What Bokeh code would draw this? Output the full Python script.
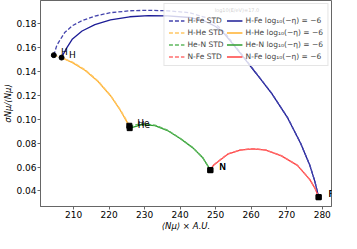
from bokeh.plotting import figure
from bokeh.models import (ColumnDataSource, Legend, LegendItem, LabelSet, Label,
                          FixedTicker, NumeralTickFormatter, Range1d)
from bokeh.core.properties import value
from bokeh.embed import file_html
from bokeh.resources import INLINE

# ---------------- data ----------------
elements = ["H", "He", "N", "Fe"]
std_x = [204.44, 225.7, 248.5, 278.98]
std_y = [0.1535, 0.0945, 0.0574, 0.0348]
mod_x = [206.63, 225.8, 248.5, 278.98]
mod_y = [0.1515, 0.0925, 0.0574, 0.0348]

# H-Fe
hfe_std_x = [204.44, 205.3, 207.5, 209.7, 212.4, 216.0, 220.4, 225.8, 231.1, 236.5, 242.7, 247.1,
             250.0, 252.5, 255.2, 257.8, 261.4, 265.8, 270.3, 273.9, 276.5, 277.9, 278.98]
hfe_std_y = [0.1535, 0.1618, 0.1724, 0.1782, 0.1824, 0.1862, 0.1890, 0.1906, 0.1910, 0.1906, 0.1890, 0.1850,
             0.1795, 0.1725, 0.1620, 0.1525, 0.1385, 0.1215, 0.1010, 0.0800, 0.0615, 0.0482, 0.0348]
hfe_x = [206.63, 208.0, 209.7, 212.4, 216.0, 220.4, 225.8, 231.1, 236.5, 242.7, 247.1,
         250.0, 252.5, 255.2, 257.8, 261.4, 265.8, 270.3, 273.9, 276.5, 277.9, 278.98]
hfe_y = [0.1515, 0.1592, 0.1671, 0.1737, 0.1790, 0.1830, 0.1856, 0.1866, 0.1864, 0.1850, 0.1818,
         0.1775, 0.1712, 0.1615, 0.1518, 0.1382, 0.1213, 0.1008, 0.0799, 0.0614, 0.0482, 0.0348]
# H-He
hhe_std_x = [204.44, 207.0, 209.7, 213.3, 216.9, 220.4, 223.1, 224.9, 225.7]
hhe_std_y = [0.1535, 0.1510, 0.1478, 0.1412, 0.1320, 0.1200, 0.1082, 0.0992, 0.0945]
hhe_x = [206.63, 209.7, 213.3, 216.9, 220.4, 223.1, 224.9, 225.8]
hhe_y = [0.1515, 0.1473, 0.1407, 0.1315, 0.1196, 0.1077, 0.0984, 0.0925]
# He-N
hen_std_x = [225.7, 229.3, 232.9, 236.45, 240.0, 243.6, 246.3, 248.0, 248.5]
hen_std_y = [0.0945, 0.0962, 0.0950, 0.0908, 0.0841, 0.0761, 0.0681, 0.0600, 0.0574]
hen_x = [225.8, 229.3, 232.9, 236.45, 240.0, 243.6, 246.3, 248.0, 248.5]
hen_y = [0.0925, 0.0955, 0.0946, 0.0905, 0.0839, 0.0760, 0.0680, 0.0600, 0.0574]
# N-Fe
nfe_std_x = [248.5, 249.4, 251.0, 253.4, 256.9, 260.5, 264.1, 268.5, 273.0, 276.5, 278.0, 278.98]
nfe_std_y = [0.0574, 0.0616, 0.0655, 0.0709, 0.0743, 0.0754, 0.0743, 0.0695, 0.0615, 0.0496, 0.0420, 0.0348]
nfe_x = [248.5, 249.4, 251.0, 253.4, 256.9, 260.5, 264.1, 268.5, 273.0, 276.5, 278.0, 278.98]
nfe_y = [0.0574, 0.0615, 0.0653, 0.0707, 0.0741, 0.0752, 0.0741, 0.0693, 0.0614, 0.0495, 0.0420, 0.0348]

x_ticks = [210, 220, 230, 240, 250, 260, 270, 280]
y_ticks = [0.04, 0.06, 0.08, 0.10, 0.12, 0.14, 0.16, 0.18]
pair_names = ["H-Fe", "H-He", "He-N", "N-Fe"]
model_tag = "log\u2081\u2080(\u2212\u03b7) = \u22126"
energy_title = "log10(E/eV)=17.0"
x_label = "\u27e8N\u03bc\u27e9 \u00d7 A.U."
y_label = "\u03c3N\u03bc/\u27e8N\u03bc\u27e9"

# ---------------- figure ----------------
FONT = "DejaVu Sans"
p = figure(width=341, height=233, x_range=Range1d(200.7, 282.6), y_range=Range1d(0.027, 0.1992),
           output_backend="svg", toolbar_location=None, min_border=0,
           min_border_left=30, min_border_right=10, min_border_top=0, min_border_bottom=0)
p.background_fill_color = "white"
p.border_fill_color = "white"
p.grid.visible = False
p.outline_line_color = "#666666"
p.outline_line_width = 1

for ax in (p.xaxis[0], p.yaxis[0]):
    ax.axis_line_color = "#666666"
    ax.major_tick_line_color = "#666666"
    ax.major_tick_out = 3
    ax.major_tick_in = 0
    ax.minor_tick_line_color = None
    ax.major_label_text_font = FONT
    ax.major_label_text_font_size = "9px"
    ax.major_label_text_color = "black"
    ax.major_label_standoff = 1
    ax.axis_label_text_font = FONT
    ax.axis_label_text_font_size = "8.5px"
    ax.axis_label_text_font_style = "italic"
    ax.axis_label_text_color = "black"
    ax.axis_label_standoff = 0

p.xaxis.ticker = FixedTicker(ticks=x_ticks)
p.yaxis.ticker = FixedTicker(ticks=y_ticks)
p.yaxis.formatter = NumeralTickFormatter(format="0.00")
p.xaxis.axis_label = x_label
p.yaxis.axis_label = y_label

solid_colors = ["#1c1c96", "#ffb02e", "#2e9e2e", "#ff4040"]
dash_colors = ["#4444ad", "#ffc766", "#5fb85f", "#ff7070"]

curves_model = [(hfe_x, hfe_y), (hhe_x, hhe_y), (hen_x, hen_y), (nfe_x, nfe_y)]
curves_std = [(hfe_std_x, hfe_std_y), (hhe_std_x, hhe_std_y), (hen_std_x, hen_std_y), (nfe_std_x, nfe_std_y)]

model_r = []
for (cx, cy), c in zip(curves_model, solid_colors):
    model_r.append(p.line(cx, cy, line_color=c, line_width=1.3))
std_r = []
for (cx, cy), c in zip(curves_std, dash_colors):
    std_r.append(p.line(cx, cy, line_color=c, line_width=1.3, line_dash="4 2"))

markers = ["circle" if e == "H" else "square" for e in elements]
p.scatter(std_x, std_y, marker=markers, size=5, color="black")
p.scatter(mod_x, mod_y, marker=markers, size=5, color="black")

for xs, ys in ((std_x, std_y), (mod_x, mod_y)):
    src = ColumnDataSource(dict(x=[v * 1.01 for v in xs], y=ys, t=elements))
    p.add_layout(LabelSet(x="x", y="y", text="t", source=src, text_font=value(FONT),
                          text_font_size="9px", text_color="black",
                          text_baseline="alphabetic"))

items = [LegendItem(label=f"{n} STD", renderers=[r]) for n, r in zip(pair_names, std_r)]
items += [LegendItem(label=f"{n} {model_tag}", renderers=[r]) for n, r in zip(pair_names, model_r)]
legend = Legend(items=items, location="top_right", ncols=2, margin=3, padding=4,
                spacing=3, label_height=9, glyph_height=9, glyph_width=16, label_standoff=3,
                label_text_font=FONT, label_text_font_size="7.5px",
                background_fill_alpha=0.8, border_line_color="#cccccc",
                title=" ", title_text_font_size="5px", title_standoff=2)
p.add_layout(legend)
p.add_layout(Label(x=256.0, y=0.1915, text=energy_title, text_font=FONT, text_font_size="5px",
                   text_align="center", text_baseline="middle", text_color="black"))

open("out.html", "w").write(file_html(p, INLINE))
